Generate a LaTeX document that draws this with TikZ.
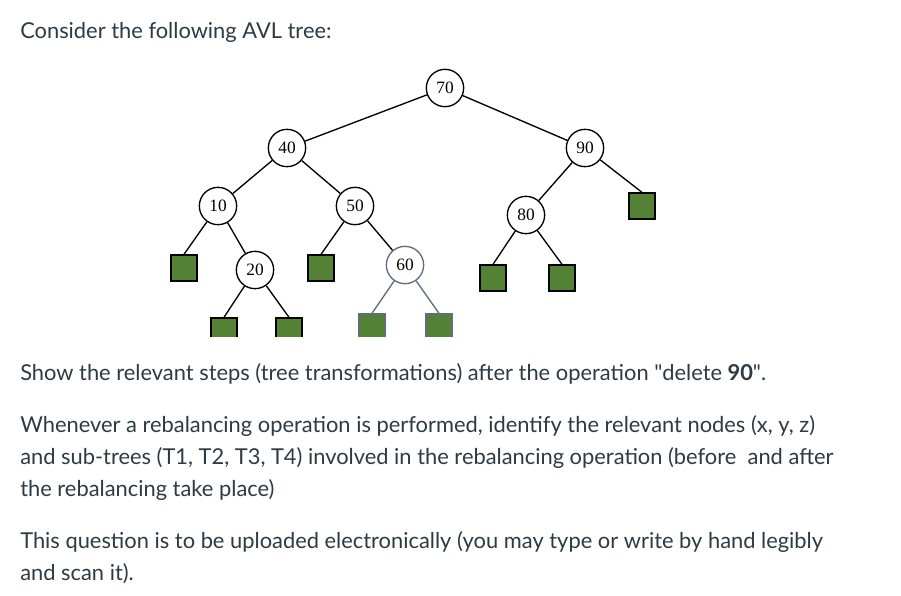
\documentclass[tikz,border=0pt]{standalone}
\usepackage{fontspec}
\setmainfont{Lato}
\newfontfamily\treefont{Liberation Serif}
\usetikzlibrary{positioning}
\definecolor{canvastext}{HTML}{2D3B45}
\definecolor{leafgreen}{HTML}{548235}
\definecolor{slategray}{HTML}{5E6E7E}

\begin{document}
\begin{tikzpicture}[
    x=0.75pt, y=-0.75pt,
    every node/.style={inner sep=0pt},
    para/.style={anchor=base west, text=canvastext,
      font=\fontsize{16.4}{19}\selectfont},
    key/.style={circle, draw, fill=white, line width=1pt,
      minimum size=28pt, font=\treefont\fontsize{13}{15}\selectfont},
    leaf/.style={rectangle, draw, fill=leafgreen, line width=1pt,
      minimum size=19.5pt},
    edge/.style={line width=1pt},
  ]
  \useasboundingbox[fill=white] (0,0) rectangle (901,596);

  % --- Question heading ---
  \node[para] (intro) at (20,38) {Consider the following AVL tree:};

  % --- Tree (bottom row is cut off by the screenshot) ---
  \begin{scope}
    \clip (0,0) rectangle (901,336);

    \node[key] (n70) at (445,88) {70};
    \node[key] (n40) at (287,148) {40};
    \node[key] (n90) at (585,148) {90};
    \node[key] (n10) at (218,206) {10};
    \node[key] (n50) at (355,206) {50};
    \node[key] (n80) at (526,215) {80};
    \node[key] (n20) at (255,270) {20};
    \node[key, draw=slategray] (n60) at (405,265) {60};

    \node[leaf] (l10) at (184,268) {};
    \node[leaf] (l50) at (321,268) {};
    \node[leaf] (l80a) at (493,278) {};
    \node[leaf] (l80b) at (562,278) {};
    \node[leaf] (r90) at (642,206) {};
    \node[leaf] (l20a) at (224,331) {};
    \node[leaf] (l20b) at (289,331) {};
    \node[leaf, draw=slategray] (l60a) at (372,327) {};
    \node[leaf, draw=slategray] (l60b) at (439,327) {};

    \draw[edge] (n70) -- (n40);
    \draw[edge] (n70) -- (n90);
    \draw[edge] (n40) -- (n10);
    \draw[edge] (n40) -- (n50);
    \draw[edge] (n10) -- (l10.north);
    \draw[edge] (n10) -- (n20);
    \draw[edge] (n20) -- (l20a.north);
    \draw[edge] (n20) -- (l20b.north);
    \draw[edge] (n50) -- (l50.north);
    \draw[edge] (n50) -- (n60);
    \draw[edge, slategray] (n60) -- (l60a.north);
    \draw[edge, slategray] (n60) -- (l60b.north);
    \draw[edge] (n90) -- (n80);
    \draw[edge] (n90) -- (r90.north);
    \draw[edge] (n80) -- (l80a.north);
    \draw[edge] (n80) -- (l80b.north);
  \end{scope}

  % --- Question text ---
  \node[para] (task) at (20,380)
    {Show the relevant steps (tree transformations) after the operation \textquotedbl delete \textbf{90}\textquotedbl.};
  \node[para] (rebal1) at (20,432)
    {Whenever a rebalancing operation is performed, identify the relevant nodes (x, y, z)};
  \node[para] (rebal2) at (20,464)
    {and sub-trees (T1, T2, T3, T4) involved in the rebalancing operation (before \ and after};
  \node[para] (rebal3) at (20,496) {the rebalancing take place)};
  \node[para] (upload1) at (20,548)
    {This question is to be uploaded electronically (you may type or write by hand legibly};
  \node[para] (upload2) at (20,580) {and scan it).};
\end{tikzpicture}
\end{document}
